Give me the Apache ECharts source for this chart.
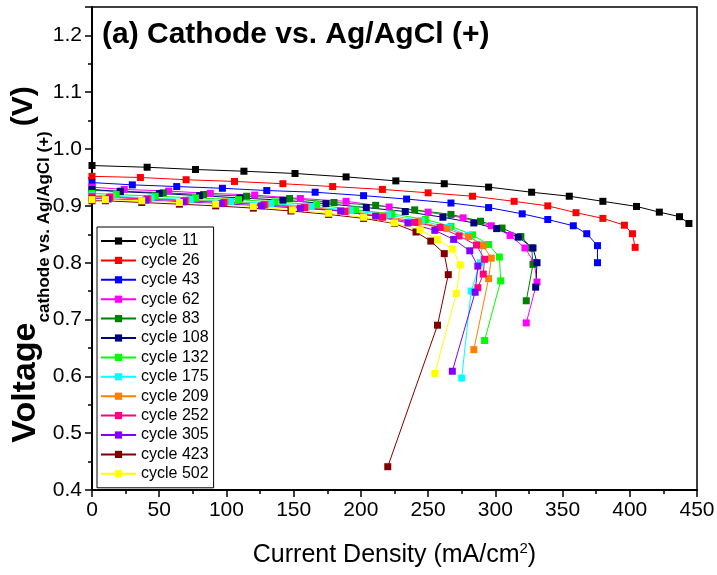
<!DOCTYPE html>
<html>
<head>
<meta charset="utf-8">
<script src="https://cdn.jsdelivr.net/npm/echarts@6/dist/echarts.min.js"></script>
<style>
  html, body { margin: 0; padding: 0; background: #fff; }
  #chart { width: 717px; height: 575px; }
</style>
</head>
<body>
<div id="chart"></div>
<script>
// Polarization curves of the cathode measured against Ag/AgCl at several cycles.
// x: current density (mA/cm^2), y: cathode voltage (V).
const cycleNames = ['cycle 11', 'cycle 26', 'cycle 43', 'cycle 62', 'cycle 83', 'cycle 108',
  'cycle 132', 'cycle 175', 'cycle 209', 'cycle 252', 'cycle 305', 'cycle 423', 'cycle 502'];
const cycleColors = ['#000000', '#ff0000', '#0000ff', '#ff00ff', '#008000', '#000080',
  '#00ff00', '#00ffff', '#ff8000', '#ff0080', '#8000ff', '#800000', '#ffff00'];

const j11 = [0, 41, 77, 113, 151, 189, 226, 262, 295, 327, 355, 380, 405, 422, 437, 444];
const v11 = [0.971, 0.968, 0.964, 0.961, 0.957, 0.951, 0.944, 0.939, 0.933, 0.924, 0.917, 0.908, 0.899, 0.889, 0.881, 0.869];

const j26 = [0, 36, 70, 106, 142, 179, 216, 250, 283, 314, 339, 360, 380, 396, 402, 404];
const v26 = [0.952, 0.950, 0.946, 0.943, 0.939, 0.934, 0.929, 0.923, 0.917, 0.908, 0.900, 0.888, 0.878, 0.866, 0.851, 0.827];

const j43 = [0, 30, 63, 97, 130, 166, 202, 234, 267, 295, 320, 339, 358, 368, 376, 376];
const v43 = [0.941, 0.937, 0.934, 0.931, 0.927, 0.924, 0.918, 0.912, 0.905, 0.897, 0.886, 0.876, 0.865, 0.851, 0.830, 0.800];

const j62 = [0, 24, 57, 88, 121, 155, 189, 221, 250, 276, 297, 311, 322, 329, 331, 323];
const v62 = [0.933, 0.929, 0.926, 0.922, 0.919, 0.913, 0.908, 0.898, 0.889, 0.879, 0.865, 0.848, 0.826, 0.800, 0.766, 0.694];

const j83 = [0, 21, 53, 83, 115, 147, 180, 211, 240, 267, 289, 305, 319, 327, 328, 323];
const v83 = [0.927, 0.926, 0.923, 0.920, 0.917, 0.913, 0.906, 0.901, 0.893, 0.885, 0.873, 0.861, 0.846, 0.826, 0.797, 0.733];

const j108 = [0, 21, 50, 80, 110, 142, 174, 204, 233, 261, 284, 301, 317, 328, 331, 330];
const v108 = [0.929, 0.925, 0.922, 0.918, 0.914, 0.910, 0.904, 0.897, 0.890, 0.880, 0.870, 0.860, 0.845, 0.826, 0.800, 0.757];

const j132 = [0, 18, 47, 77, 109, 136, 167, 196, 223, 248, 267, 283, 295, 303, 304, 292];
const v132 = [0.922, 0.920, 0.917, 0.914, 0.911, 0.907, 0.902, 0.893, 0.886, 0.876, 0.864, 0.849, 0.832, 0.810, 0.768, 0.663];

const j175 = [0, 15, 44, 73, 103, 133, 163, 192, 220, 245, 265, 280, 290, 289, 282, 275];
const v175 = [0.919, 0.917, 0.914, 0.911, 0.908, 0.904, 0.899, 0.892, 0.884, 0.874, 0.862, 0.848, 0.832, 0.800, 0.750, 0.597];

const j209 = [0, 14, 42, 70, 99, 129, 159, 189, 217, 243, 264, 280, 291, 297, 295, 284];
const v209 = [0.917, 0.916, 0.913, 0.910, 0.907, 0.903, 0.898, 0.891, 0.882, 0.872, 0.860, 0.846, 0.830, 0.808, 0.772, 0.647];

const j252 = [0, 13, 41, 69, 98, 128, 158, 188, 216, 240, 259, 273, 286, 292, 291, 287];
const v252 = [0.916, 0.915, 0.912, 0.909, 0.906, 0.902, 0.897, 0.890, 0.880, 0.871, 0.862, 0.847, 0.831, 0.806, 0.780, 0.756];

const j305 = [0, 12, 40, 68, 96, 126, 155, 185, 211, 235, 255, 269, 281, 287, 285, 268];
const v305 = [0.913, 0.912, 0.910, 0.907, 0.904, 0.900, 0.896, 0.891, 0.882, 0.870, 0.857, 0.841, 0.821, 0.794, 0.748, 0.609];

const j423 = [0, 10, 37, 65, 92, 120, 148, 176, 202, 225, 241, 252, 262, 265, 257, 220];
const v423 = [0.909, 0.909, 0.906, 0.903, 0.900, 0.896, 0.891, 0.885, 0.878, 0.869, 0.854, 0.838, 0.816, 0.779, 0.690, 0.441];

const j502 = [0, 10, 37, 65, 92, 120, 149, 176, 202, 225, 244, 257, 268, 274, 271, 255];
const v502 = [0.911, 0.911, 0.909, 0.906, 0.903, 0.899, 0.893, 0.887, 0.880, 0.870, 0.858, 0.841, 0.824, 0.796, 0.746, 0.605];

const currentSets = [j11, j26, j43, j62, j83, j108, j132, j175, j209, j252, j305, j423, j502];
const voltageSets = [v11, v26, v43, v62, v83, v108, v132, v175, v209, v252, v305, v423, v502];

const xTicks = { min: 0, max: 450, step: 50 };
const yTicks = { min: 0.4, max: 1.25, step: 0.1 };

const FONT = '"Liberation Sans", Arial, sans-serif';

const series = cycleNames.map((name, i) => ({
  name: name,
  type: 'line',
  data: currentSets[i].map((x, k) => [x, voltageSets[i][k]]),
  symbol: 'rect',
  symbolSize: 7,
  showSymbol: true,
  lineStyle: { color: cycleColors[i], width: 1 },
  itemStyle: { color: cycleColors[i] },
  emphasis: { disabled: true },
  animation: false
}));

const chart = echarts.init(document.getElementById('chart'), null, { renderer: 'canvas' });
chart.setOption({
  backgroundColor: '#ffffff',
  animation: false,
  textStyle: { fontFamily: FONT },
  title: {
    text: '(a) Cathode vs. Ag/AgCl (+)',
    left: 97,
    top: 15,
    textStyle: { fontFamily: FONT, fontSize: 30, fontWeight: 'bold', color: '#000' }
  },
  grid: {
    left: 92, right: 20, top: 7, bottom: 85,
    containLabel: false,
    outerBoundsMode: 'none',
    show: true, borderColor: '#000', borderWidth: 1.5, backgroundColor: 'transparent'
  },
  legend: {
    orient: 'vertical',
    left: 97,
    top: 227,
    padding: [6, 5, 6, 3],
    itemWidth: 35,
    itemHeight: 9,
    itemGap: 3.4,
    borderColor: '#000',
    borderWidth: 1,
    backgroundColor: '#fff',
    textStyle: { fontFamily: FONT, fontSize: 16, color: '#000', lineHeight: 16 },
    data: cycleNames
  },
  xAxis: {
    type: 'value',
    min: xTicks.min, max: xTicks.max, interval: xTicks.step,
    name: 'Current Density (mA/cm{sup|2})',
    nameLocation: 'middle',
    nameGap: 51,
    nameMoveOverlap: false,
    nameTextStyle: {
      fontFamily: FONT, fontSize: 25, color: '#000', lineHeight: 28,
      rich: { sup: { fontFamily: FONT, fontSize: 15, color: '#000', verticalAlign: 'top', lineHeight: 14 } }
    },
    axisLine: { show: true, lineStyle: { color: '#000', width: 2 } },
    axisTick: { show: true, inside: false, length: 7, lineStyle: { color: '#000', width: 1.5 } },
    minorTick: { show: true, splitNumber: 2, length: 4, lineStyle: { color: '#000', width: 1.5 } },
    splitLine: { show: false },
    axisLabel: { fontFamily: FONT, fontSize: 21, color: '#000', margin: 10 }
  },
  yAxis: {
    type: 'value',
    min: yTicks.min, max: yTicks.max, interval: yTicks.step,
    name: '{b|Voltage}{s|cathode vs. Ag/AgCl (+)}{v|(V)}',
    nameLocation: 'middle',
    nameGap: 45,
    nameMoveOverlap: false,
    nameTextStyle: {
      color: '#000',
      padding: [0, 32, 0, 0],
      rich: {
        b: { fontFamily: FONT, fontSize: 34, fontWeight: 'bold', color: '#000', lineHeight: 38, verticalAlign: 'top' },
        s: { fontFamily: FONT, fontSize: 17, fontWeight: 'bold', color: '#000', lineHeight: 17, verticalAlign: 'top', padding: [27, 0, 0, 0] },
        v: { fontFamily: FONT, fontSize: 30, fontWeight: 'bold', color: '#000', lineHeight: 38, verticalAlign: 'top', padding: [0, 0, 0, 5] }
      }
    },
    axisLine: { show: true, lineStyle: { color: '#000', width: 2 } },
    axisTick: { show: true, inside: false, length: 7, lineStyle: { color: '#000', width: 1.5 } },
    minorTick: { show: true, splitNumber: 2, length: 4, lineStyle: { color: '#000', width: 1.5 } },
    splitLine: { show: false },
    axisLabel: {
      fontFamily: FONT, fontSize: 21, color: '#000', margin: 10, showMaxLabel: false,
      formatter: v => v.toFixed(1)
    }
  },
  series: series
});
</script>
</body>
</html>
